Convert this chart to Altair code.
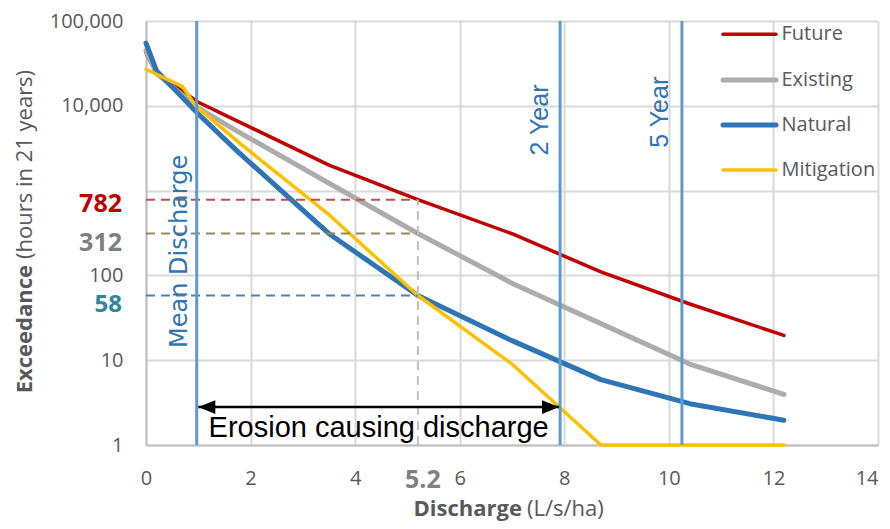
import altair as alt
import pandas as pd

# ---------------- data ----------------
series_names = ["Future", "Existing", "Natural", "Mitigation"]

future_q = [0, 0.2, 1.0, 1.75, 3.5, 5.2, 7.0, 8.7, 10.4, 12.2]
future_h = [42000, 24000, 11000, 6600, 2000, 782, 310, 110, 46, 19.6]

existing_q = [0, 0.2, 1.0, 1.75, 3.5, 5.2, 7.0, 8.7, 10.4, 12.2]
existing_h = [45000, 24000, 9400, 5000, 1220, 312, 81, 27, 9.0, 3.95]

natural_q = [0, 0.2, 1.0, 1.75, 3.5, 5.2, 7.0, 8.7, 10.4, 12.2]
natural_h = [55000, 26000, 8000, 2900, 310, 58, 17, 5.9, 3.07, 1.96]

mitigation_q = [0, 0.7, 0.95, 1.75, 3.5, 5.2, 7.0, 8.7, 10.4, 12.2]
mitigation_h = [27000, 16800, 10000, 3800, 520, 58, 9, 1, 1, 1]

mean_discharge = 0.97
two_year = 7.92
five_year = 10.25
ref_discharge = 5.2
ref_values = [782, 312, 58]
ref_labels = ["782", "312", "58"]

arrow_start = 1.0
arrow_end = 7.9
arrow_level = 2.8

x_ticks = [0, 2, 4, 6, 8, 10, 12, 14]
y_ticks = [1, 10, 100, 1000, 10000, 100000]

# ---------------- styles ----------------
series_colors = ["#C00000", "#AEABAB", "#2E75B6", "#FFC000"]
series_widths = [3.5, 5, 5, 3.5]
ref_label_colors = ["#C00000", "#808080", "#31859C"]
ref_line_colors = ["#C0504D", "#948A54", "#4F81BD"]
ref_label_dy = [4, 10, 10]
ref_label_size = [25, 25, 24]
GRID = "#D9D9D9"
AXIS = "#BFBFBF"
TXT = "#595959"
VBLUE = "#5B9BD5"
LBLUE = "#2E75B6"
FONT = "Open Sans"

W, H = 732, 424

xs = alt.Scale(domain=[0, 14], nice=False, zero=False)
ys = alt.Scale(type="log", domain=[1, 100000], nice=False)

x_axis = alt.Axis(values=x_ticks, format="d", title=None, grid=True, gridColor=GRID,
                  gridWidth=2, domainColor=AXIS, domainWidth=2, ticks=False, tickSize=0,
                  labelPadding=23, labelFont=FONT, labelFontSize=20, labelColor=TXT,
                  labelFlush=False, labelOverlap=False,
                  labelAlign={"condition": {"test": "datum.value == 14", "value": "right"},
                              "value": "center"})
y_axis = alt.Axis(values=y_ticks,
                  labelExpr="datum.value == 1000 ? '' : format(datum.value, ',')",
                  title=None, grid=True, gridColor=GRID, gridWidth=2, domainColor=AXIS,
                  domainWidth=2, ticks=False, tickSize=0, labelPadding=23, labelFont=FONT,
                  labelFontSize=20, labelColor=TXT, labelFlush=False, labelOverlap=False)


def X(field):
    return alt.X(field, type="quantitative", scale=xs, axis=x_axis)


def Y(field):
    return alt.Y(field, type="quantitative", scale=ys, axis=y_axis)


layers = []

# curves
all_q = [future_q, existing_q, natural_q, mitigation_q]
all_h = [future_h, existing_h, natural_h, mitigation_h]
for name, q, h, c, w in zip(series_names, all_q, all_h, series_colors, series_widths):
    df = pd.DataFrame({"q": q, "h": h, "series": name})
    layers.append(
        alt.Chart(df).mark_line(color=c, strokeWidth=w, strokeCap="round", strokeJoin="round")
        .encode(x=X("q"), y=Y("h"))
    )

# dashed reference lines
for v, c in zip(ref_values, ref_line_colors):
    df = pd.DataFrame({"x0": [0], "x1": [ref_discharge], "v": [v]})
    layers.append(
        alt.Chart(df).mark_rule(color=c, strokeWidth=2, strokeDash=[9, 6])
        .encode(x=X("x0"), x2="x1", y=Y("v"))
    )
vdf = pd.DataFrame({"x": [ref_discharge], "y0": [1], "y1": [ref_values[0]]})
layers.append(
    alt.Chart(vdf).mark_rule(color="#BFBFBF", strokeWidth=2, strokeDash=[9, 6])
    .encode(x=X("x"), y=Y("y0"), y2="y1")
)

# vertical marker lines
vl = pd.DataFrame({"x": [mean_discharge, two_year, five_year]})
layers.append(alt.Chart(vl).mark_rule(color=VBLUE, strokeWidth=3).encode(x=X("x")))

# arrow
adf = pd.DataFrame({"x0": [arrow_start], "x1": [arrow_end], "y": [arrow_level]})
layers.append(alt.Chart(adf).mark_rule(color="black", strokeWidth=2.5)
              .encode(x=X("x0"), x2="x1", y=Y("y")))
layers.append(alt.Chart(adf).mark_point(shape="M0,0L2,-0.8L2,0.8Z", size=289, filled=True,
                                        color="black", opacity=1, strokeWidth=0)
              .encode(x=X("x0"), y=Y("y")))
layers.append(alt.Chart(adf).mark_point(shape="M0,0L-2,-0.8L-2,0.8Z", size=289, filled=True,
                                        color="black", opacity=1, strokeWidth=0)
              .encode(x=X("x1"), y=Y("y")))

# annotation texts
tdf = pd.DataFrame({"x": [(arrow_start + arrow_end) / 2], "y": [1], "t": ["Erosion causing discharge"]})
layers.append(alt.Chart(tdf).mark_text(font="Liberation Sans", fontSize=29, color="black",
                                       baseline="alphabetic", align="center", dy=-8)
              .encode(x=X("x"), y=Y("y"), text="t:N"))

mdf = pd.DataFrame({"x": [mean_discharge], "y": [192], "t": ["Mean Discharge"]})
layers.append(alt.Chart(mdf).mark_text(font="DejaVu Sans", fontSize=24, color=LBLUE, angle=270,
                                       baseline="alphabetic", align="center", dy=-10)
              .encode(x=X("x"), y=Y("y"), text="t:N"))
for xv, yv, lab, d in [(two_year, 6800, "2 Year", -12), (five_year, 8400, "5 Year", -14)]:
    df = pd.DataFrame({"x": [xv], "y": [yv], "t": [lab]})
    layers.append(alt.Chart(df).mark_text(font="Liberation Sans", fontSize=25, color=LBLUE, angle=270,
                                          baseline="alphabetic", align="center", dy=d)
                  .encode(x=X("x"), y=Y("y"), text="t:N"))

# custom y labels
for v, lab, c, d, s in zip(ref_values, ref_labels, ref_label_colors, ref_label_dy, ref_label_size):
    df = pd.DataFrame({"v": [v], "t": [lab]})
    layers.append(alt.Chart(df).mark_text(font=FONT, fontSize=s, fontWeight="bold", color=c,
                                          align="right", baseline="middle", dy=d)
                  .encode(x=alt.value(-24), y=Y("v"), text="t:N"))

# 5.2 x label
df52 = pd.DataFrame({"x": [ref_discharge], "y": [1], "t": ["5.2"]})
layers.append(alt.Chart(df52).mark_text(font=FONT, fontSize=25, fontWeight="bold", color="#808080",
                                        align="center", baseline="middle", dx=5, dy=34.5)
              .encode(x=X("x"), y=Y("y"), text="t:N"))


# axis titles (mixed weight)
def txt(label, **kw):
    return alt.Chart(pd.DataFrame({"t": [label]})).mark_text(**kw)


layers.append(txt("Exceedance", font=FONT, fontSize=22, fontWeight="bold", color=TXT, angle=270,
                  align="right", baseline="alphabetic")
              .encode(x=alt.value(-114.5), y=alt.value(244), text="t:N"))
layers.append(txt("(hours in 21 years)", font=FONT, fontSize=22, color=TXT, angle=270,
                  align="left", baseline="alphabetic")
              .encode(x=alt.value(-114.5), y=alt.value(238), text="t:N"))
layers.append(txt("Discharge", font=FONT, fontSize=22, fontWeight="bold", color=TXT,
                  align="right", baseline="alphabetic")
              .encode(x=alt.value(376), y=alt.value(495), text="t:N"))
layers.append(txt("(L/s/ha)", font=FONT, fontSize=22, color=TXT,
                  align="left", baseline="alphabetic")
              .encode(x=alt.value(381), y=alt.value(495), text="t:N"))

# legend
leg_rows = [13.3, 59, 104, 149]
leg = pd.DataFrame({"series": series_names, "color": series_colors,
                    "w": series_widths, "ly": leg_rows})
layers.append(alt.Chart(leg).mark_rule(strokeCap="round")
              .encode(x=alt.value(577), x2=alt.value(630),
                      y=alt.Y("ly:Q", scale=None, axis=None),
                      color=alt.Color("color:N", scale=None),
                      strokeWidth=alt.StrokeWidth("w:Q", scale=None)))
layers.append(alt.Chart(leg).mark_text(font=FONT, fontSize=20, color=TXT, align="left",
                                       baseline="middle")
              .encode(x=alt.value(635.5), y=alt.Y("ly:Q", scale=None, axis=None), text="series:N"))

chart = alt.layer(*layers).properties(
    width=W, height=H,
    autosize=alt.AutoSizeParams(type="none"),
    padding={"left": 138, "top": 13, "right": 4, "bottom": 76},
    background="white",
).configure_view(stroke=None)

chart.save("out.html", embed_options={"renderer": "svg", "actions": False})
